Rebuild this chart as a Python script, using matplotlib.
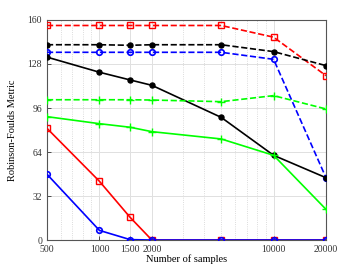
import matplotlib
matplotlib.use("Agg")
import matplotlib.pyplot as plt
from matplotlib.ticker import FixedLocator, NullFormatter

samples = [500, 1000, 1500, 2000, 5000, 10000, 20000]
red_dashed = [156, 156, 156, 156, 156, 147.5, 119.5]
black_dashed = [142, 142, 141.6, 142, 142, 137, 126.8]
blue_dashed = [136.5, 136.5, 136.5, 136.5, 136.5, 131.4, 45.3]
black_solid = [133, 122, 116.4, 112.5, 89.2, 61.6, 45.3]
green_dashed = [102, 102, 102, 101.8, 100.6, 105, 95.3]
green_solid = [89.7, 84.6, 82, 78.8, 73.5, 61.6, 22.3]
red_solid = [81.2, 42.7, 16.5, 0, 0, 0, 0]
blue_solid = [47.8, 7, 0.3, 0, 0, 0, 0]

xticks = [500, 1000, 1500, 2000, 10000, 20000]
xtick_labels = ["500", "1000", "1500", "2000", "10000", "20000"]
yticks = [0, 32, 64, 96, 128, 160]

plt.rcParams['font.family'] = ['Liberation Serif', 'DejaVu Serif']

fig = plt.figure(figsize=(3.6, 2.7), dpi=100)
ax = fig.add_axes([0.1306, 0.111, 0.775, 0.815])

lw = 1.2
ms = 4
ax.plot(samples, red_dashed, '--', color='#ff0000', marker='s', mfc='none', ms=ms, lw=lw, zorder=3)
ax.plot(samples, black_dashed, '--', color='black', marker='o', mfc='black', ms=3.6, lw=lw, zorder=3)
ax.plot(samples, blue_dashed, '--', color='#0000ff', marker='o', mfc='none', ms=ms, mew=1.2, lw=lw, zorder=3)
ax.plot(samples, black_solid, '-', color='black', marker='o', mfc='black', ms=3.6, lw=lw, zorder=3)
ax.plot(samples, green_dashed, '--', color='#00ff00', marker='+', ms=6, lw=lw, zorder=3)
ax.plot(samples, green_solid, '-', color='#00ff00', marker='+', ms=6, lw=lw, zorder=3)
ax.plot(samples, red_solid, '-', color='#ff0000', marker='s', mfc='none', ms=ms, lw=lw, zorder=3)
ax.plot(samples, blue_solid, '-', color='#0000ff', marker='o', mfc='none', ms=ms, mew=1.2, lw=lw, zorder=3)

ax.set_xscale('log')
ax.set_xlim(500, 20000)
ax.set_ylim(0, 160)
ax.xaxis.set_major_locator(FixedLocator(xticks))
ax.set_xticklabels(xtick_labels)
minor = [600, 700, 800, 900, 3000, 4000, 5000, 6000, 7000, 8000, 9000]
ax.xaxis.set_minor_locator(FixedLocator(minor))
ax.xaxis.set_minor_formatter(NullFormatter())
ax.set_yticks(yticks)

ax.grid(True, which='major', color='#e0e0e0', lw=0.7, ls='-')
ax.grid(True, which='minor', axis='x', color='#d0d0d0', lw=0.6, ls=':')
ax.set_axisbelow(True)

for s in ax.spines.values():
    s.set_color('#555555')
    s.set_linewidth(0.8)
ax.tick_params(which='both', direction='in', labelsize=7, colors='#333333', length=3, width=0.6)
ax.tick_params(which='minor', length=0)
ax.tick_params(axis='y', pad=3.5)
ax.tick_params(axis='x', pad=3.5)

ax.set_xlabel('Number of samples', fontsize=7.5, labelpad=0)
ax.set_ylabel('Robinson-Foulds Metric', fontsize=7.5, labelpad=8)

fig.savefig('out.png', dpi=100)
